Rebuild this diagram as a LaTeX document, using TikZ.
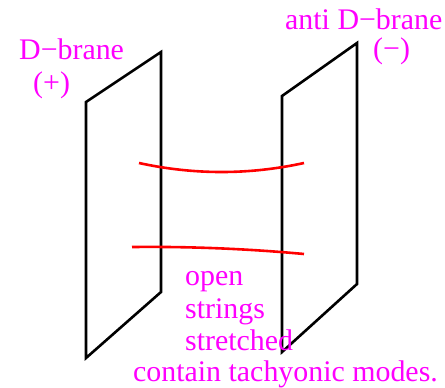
\documentclass[tikz,border=0pt]{standalone}
\usepackage{xcolor}
\definecolor{labelmag}{HTML}{FF00FF}
\definecolor{stringred}{HTML}{FF0000}
\usepackage{fontspec}
\setmainfont{Liberation Serif}
\usepackage{tikz}
\usetikzlibrary{positioning}

\begin{document}
\begin{tikzpicture}[x=1bp, y=-1bp,
    brane/.style={draw=black, line width=2.6bp, line join=miter},
    openstring/.style={draw=stringred, line width=2.6bp},
    tag/.style={anchor=base west, inner sep=0pt, text=labelmag,
      font=\fontsize{30}{33}\selectfont}]
  \useasboundingbox (0,0) rectangle (445,387);
  % D-brane (+)
  \begin{scope}
    \draw[brane] (86,102) -- (161,52) -- (161,292) -- (86,358) -- cycle;
    \node[tag] (dlabel) at (19,59) {D−brane};
    \node[tag] (dsign) at (33,92) {(+)};
  \end{scope}
  % anti D-brane (-)
  \begin{scope}
    \draw[brane] (282,96) -- (357,43) -- (357,284) -- (282,352) -- cycle;
    \node[tag] (alabel) at (285,29) {anti D−brane};
    \node[tag] (asign) at (373,58) {(−)};
  \end{scope}
  % open strings between the branes
  \coordinate (s1a) at (139,163);
  \coordinate (s1b) at (304,163);
  \coordinate (s2a) at (132,247);
  \coordinate (s2b) at (304,254);
  \draw[openstring] (s1a) .. controls (194,175) and (249,175) .. (s1b);
  \draw[openstring] (s2a) .. controls (189,246.4) and (247,248.7) .. (s2b);
  % caption
  \node[tag] (open) at (185,285) {open};
  \node[tag] (strings) at (185,318) {strings};
  \node[tag] (stretched) at (185,350) {stretched};
  \node[tag] (modes) at (133,381) {contain tachyonic modes.};
\end{tikzpicture}
\end{document}
